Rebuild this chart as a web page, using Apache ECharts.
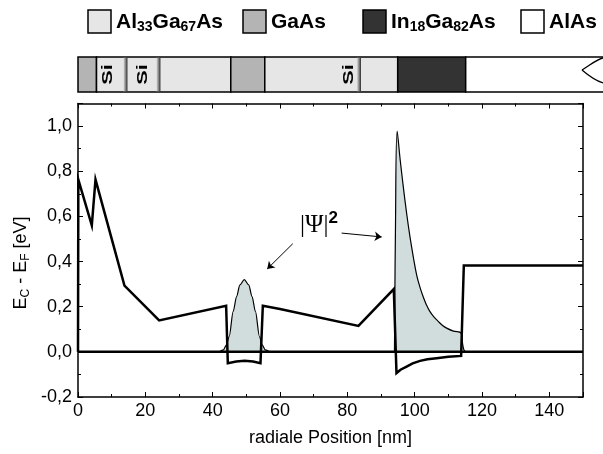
<!DOCTYPE html>
<html lang="de">
<head>
  <meta charset="utf-8">
  <title>Leitungsband E_C - E_F</title>
  <script type="text/javascript" src="https://cdn.jsdelivr.net/npm/echarts@6/dist/echarts.min.js"></script>
  <style type="text/css">
    * {
      margin: 0;
      padding: 0;
    }
    html, body, #chart {
      width: 603px;
      height: 454px;
      overflow: hidden;
      background: #fff;
    }
  </style>
</head>
<body>
  <div id="chart"></div>
  <script type="text/javascript">
    // Leitungsbandkante E_C - E_F [eV] ueber der radialen Position [nm]
    var bandEdge = [
      [0, 0], [0.1, 0.763], [4.1, 0.56], [5.2, 0.763], [13.8, 0.293], [24.1, 0.139],
      [44.0, 0.204], [44.5, -0.05], [47, -0.043], [49.5, -0.04], [52, -0.043], [54.2, -0.05],
      [54.9, 0.204], [60, 0.19], [83.3, 0.115], [93.8, 0.278], [94.6, -0.094], [95.8, -0.079],
      [97.6, -0.065], [99.4, -0.051], [101.6, -0.04], [103.8, -0.033], [106.5, -0.028],
      [110, -0.022], [113.8, -0.018], [114.6, 0.383], [150, 0.383]
    ];
    // Fermi-Niveau
    var fermi = [[0, 0], [150, 0]];
    // |Psi|^2 im GaAs-Topf
    var psiGaAs = [
      [42, 0], [43.2, 0.009], [44.1, 0.031], [44.9, 0.068], [46.1, 0.179], [47.1, 0.245],
      [48.1, 0.297], [49.4, 0.32], [50.7, 0.297], [51.7, 0.245], [52.7, 0.179], [53.9, 0.068],
      [54.7, 0.031], [55.6, 0.009], [57, 0]
    ];
    // |Psi|^2 im InGaAs-Kanal
    var psiInGaAs = [
      [94.0, 0], [94.3, 0.55], [94.8, 0.978], [95.7, 0.85], [96.6, 0.734], [97.6, 0.615],
      [98.6, 0.51], [99.6, 0.42], [100.6, 0.34], [101.5, 0.29], [102.5, 0.245], [103.5, 0.208],
      [104.5, 0.179], [105.7, 0.155], [107, 0.135], [108.2, 0.118], [109.5, 0.105], [111.5, 0.092],
      [113.8, 0.083], [114.2, 0.04], [114.6, 0.01], [115.2, 0]
    ];

    // Schichtfolge oben (nm)
    var layerFrom = [0, 5.5, 45.4, 55.5, 95.0, 115.2];
    var layerTo = [5.5, 45.4, 55.5, 95.0, 115.2, 156];
    var layerMat = ['GaAs', 'AlGaAs', 'GaAs', 'AlGaAs', 'InGaAs', 'AlAs'];
    // Si-Delta-Dotierung: Position der Ebene und des Schriftzugs
    var siDelta = [14.1, 23.9, 83.5];
    var siLabel = [8.9, 19.5, 80.6];

    var matColor = {
      AlGaAs: '#e6e6e6',
      GaAs: '#b4b4b4',
      InGaAs: '#333333',
      AlAs: '#ffffff'
    };
    var legendItems = [
      { mat: 'AlGaAs', text: '{m|Al}{s|33}{m|Ga}{s|67}{m|As}' },
      { mat: 'GaAs', text: '{m|GaAs}' },
      { mat: 'InGaAs', text: '{m|In}{s|18}{m|Ga}{s|82}{m|As}' },
      { mat: 'AlAs', text: '{m|AlAs}' }
    ];
    var legendX = [88, 243, 363, 521];

    var font = 'Liberation Sans, Arial, sans-serif';
    var fill = '#d1dcdc';

    function tickLabel(v) {
      if (Math.abs(v * 5 - Math.round(v * 5)) > 1e-6) return '';
      return v.toFixed(1).replace('.', ',');
    }

    function baseAxis(extra) {
      var a = {
        gridIndex: 0,
        type: 'value',
        axisLine: { onZero: false, lineStyle: { color: '#000', width: 1.5 } },
        axisTick: { inside: true, length: 5, lineStyle: { color: '#000', width: 1 } },
        minorTick: { show: true, splitNumber: 2, length: 3, lineStyle: { color: '#000', width: 1 } },
        splitLine: { show: false },
        axisLabel: { show: false }
      };
      for (var k in extra) a[k] = extra[k];
      return a;
    }

    function renderLayer(params, api) {
      var p0 = api.coord([api.value(0), 1]);
      var p1 = api.coord([api.value(1), 0]);
      var mat = layerMat[api.value(2)];
      var w = p1[0] - p0[0], h = p1[1] - p0[1];
      if (mat !== 'AlAs') {
        return {
          type: 'rect',
          shape: { x: p0[0], y: p0[1], width: w, height: h },
          style: { fill: matColor[mat], stroke: '#000', lineWidth: 1.5 }
        };
      }
      // offenes Ende mit Bruchsymbol
      var r = p1[0], t = p0[1];
      return {
        type: 'group',
        children: [
          { type: 'rect', shape: { x: p0[0], y: t, width: w, height: h }, style: { fill: '#fff' } },
          { type: 'polyline', shape: { points: [[r, t], [p0[0], t], [p0[0], p1[1]], [r, p1[1]]] },
            style: { fill: null, stroke: '#000', lineWidth: 1.5 } },
          { type: 'bezierCurve', shape: { x1: r, y1: t + 1, cpx1: r - 6, cpy1: t + 2, cpx2: r - 14, cpy2: t + 9, x2: r - 21, y2: t + 13 },
            style: { fill: null, stroke: '#000', lineWidth: 1.3 } },
          { type: 'bezierCurve', shape: { x1: r - 21, y1: t + 13, cpx1: r - 14, cpy1: t + 19, cpx2: r - 6, cpy2: t + 24, x2: r, y2: t + 26 },
            style: { fill: null, stroke: '#000', lineWidth: 1.3 } }
        ]
      };
    }

    function renderSi(params, api) {
      var top = api.coord([api.value(0), 1]);
      var bot = api.coord([api.value(0), 0]);
      var lab = api.coord([api.value(1), 0.5]);
      return {
        type: 'group',
        children: [
          {
            type: 'rect',
            shape: { x: top[0] - 2, y: top[1] + 0.75, width: 4, height: bot[1] - top[1] - 1.5 },
            style: {
              fill: new echarts.graphic.LinearGradient(0, 0, 1, 0, [
                { offset: 0, color: '#d8d8d8' },
                { offset: 0.5, color: '#8a8a8a' },
                { offset: 1, color: '#2a2a2a' }
              ])
            }
          },
          {
            type: 'text',
            x: lab[0],
            y: lab[1],
            rotation: Math.PI / 2,
            scaleX: 1.55,
            style: {
              text: 'Si', fill: '#000', fontSize: 14, fontWeight: 'bold', fontFamily: font,
              align: 'center', verticalAlign: 'middle'
            }
          }
        ]
      };
    }

    var graphics = [];
    legendItems.forEach(function (item, i) {
      graphics.push({
        type: 'rect',
        shape: { x: legendX[i], y: 10, width: 23, height: 23 },
        style: { fill: matColor[item.mat], stroke: '#000', lineWidth: 1.5 }
      });
      graphics.push({
        type: 'text',
        x: legendX[i] + 28,
        y: 12,
        style: {
          text: item.text,
          fill: '#000',
          align: 'left',
          verticalAlign: 'top',
          rich: {
            m: { fontSize: 21, fontWeight: 'bold', fontFamily: font, lineHeight: 22, verticalAlign: 'top' },
            s: { fontSize: 14, fontWeight: 'bold', fontFamily: font, lineHeight: 10, verticalAlign: 'bottom' }
          }
        }
      });
    });
    // y-Achsentitel
    graphics.push({
      type: 'text',
      x: 22,
      y: 263,
      rotation: Math.PI / 2,
      style: {
        text: '{n|E}{u|C}{n| - E}{u|F}{n| [eV]}',
        fill: '#000',
        align: 'center',
        verticalAlign: 'middle',
        rich: {
          n: { fontSize: 18, fontFamily: font, lineHeight: 20, verticalAlign: 'top' },
          u: { fontSize: 12, fontFamily: font, lineHeight: 12, verticalAlign: 'bottom' }
        }
      }
    });
    // |Psi|^2 Beschriftung
    graphics.push({
      type: 'text',
      x: 300,
      y: 210,
      style: {
        text: '{p||Ψ|}{s|2}',
        fill: '#000',
        align: 'left',
        verticalAlign: 'top',
        rich: {
          p: { fontSize: 25, fontFamily: 'Liberation Serif, Times New Roman, serif', lineHeight: 28, verticalAlign: 'bottom' },
          s: { fontSize: 17, fontWeight: 'bold', fontFamily: font, lineHeight: 17, verticalAlign: 'top' }
        }
      }
    });

    var option = {
      animation: false,
      backgroundColor: '#fff',
      textStyle: { fontFamily: font },
      grid: [
        { left: 78, right: 20, top: 103.5, bottom: 57 },
        { left: 78, width: 525, top: 57, height: 35 }
      ],
      xAxis: [
        baseAxis({
          min: 0, max: 150, interval: 20, position: 'bottom',
          axisLabel: {
            show: true, margin: 5, fontSize: 18, color: '#000', fontFamily: font,
            formatter: function (v) { return v % 20 === 0 && v < 150 ? String(v) : ''; }
          },
          name: 'radiale Position [nm]',
          nameLocation: 'middle',
          nameGap: 32,
          nameTextStyle: { fontSize: 18, color: '#000', fontFamily: font }
        }),
        baseAxis({ min: 0, max: 150, interval: 20, position: 'top' }),
        { gridIndex: 1, type: 'value', min: 0, max: 156, show: false }
      ],
      yAxis: [
        baseAxis({
          min: -0.2, max: 1.1, interval: 0.2, position: 'left',
          axisLabel: { show: true, margin: 6, fontSize: 18, color: '#000', fontFamily: font, formatter: tickLabel }
        }),
        baseAxis({ min: -0.2, max: 1.1, interval: 0.2, position: 'right' }),
        { gridIndex: 1, type: 'value', min: 0, max: 1, show: false }
      ],
      graphic: { elements: graphics },
      series: [
        {
          type: 'line', xAxisIndex: 0, yAxisIndex: 0, data: psiGaAs, symbol: 'none',
          smooth: 0.3, smoothMonotone: 'x',
          lineStyle: { color: '#000', width: 1.2 }, areaStyle: { color: fill, opacity: 1 }, z: 2
        },
        {
          type: 'line', xAxisIndex: 0, yAxisIndex: 0, data: psiInGaAs, symbol: 'none',
          smooth: 0.4,
          lineStyle: { color: '#000', width: 1.2 }, areaStyle: { color: fill, opacity: 1 }, z: 2
        },
        {
          type: 'line', xAxisIndex: 0, yAxisIndex: 0, data: fermi, symbol: 'none',
          lineStyle: { color: '#000', width: 2.5 }, z: 3
        },
        {
          type: 'line', xAxisIndex: 0, yAxisIndex: 0, data: bandEdge, symbol: 'none',
          lineStyle: { color: '#000', width: 2.5, join: 'miter' }, z: 4,
          markLine: {
            silent: true,
            symbol: ['none', 'arrow'],
            symbolSize: 7,
            label: { show: false },
            lineStyle: { color: '#000', width: 1, type: 'solid' },
            data: [
              [{ coord: [63.8, 0.479] }, { coord: [56.2, 0.367] }],
              [{ coord: [78.3, 0.526] }, { coord: [90.2, 0.509] }]
            ]
          }
        },
        {
          type: 'custom', xAxisIndex: 2, yAxisIndex: 2, clip: false,
          renderItem: renderLayer,
          data: layerFrom.map(function (f, i) { return [f, layerTo[i], i]; })
        },
        {
          type: 'custom', xAxisIndex: 2, yAxisIndex: 2, clip: false, z: 3,
          renderItem: renderSi,
          data: siDelta.map(function (d, i) { return [d, siLabel[i]]; })
        }
      ]
    };

    var chart = echarts.init(document.getElementById('chart'), null, { renderer: 'canvas' });
    chart.setOption(option);
  </script>
</body>
</html>
